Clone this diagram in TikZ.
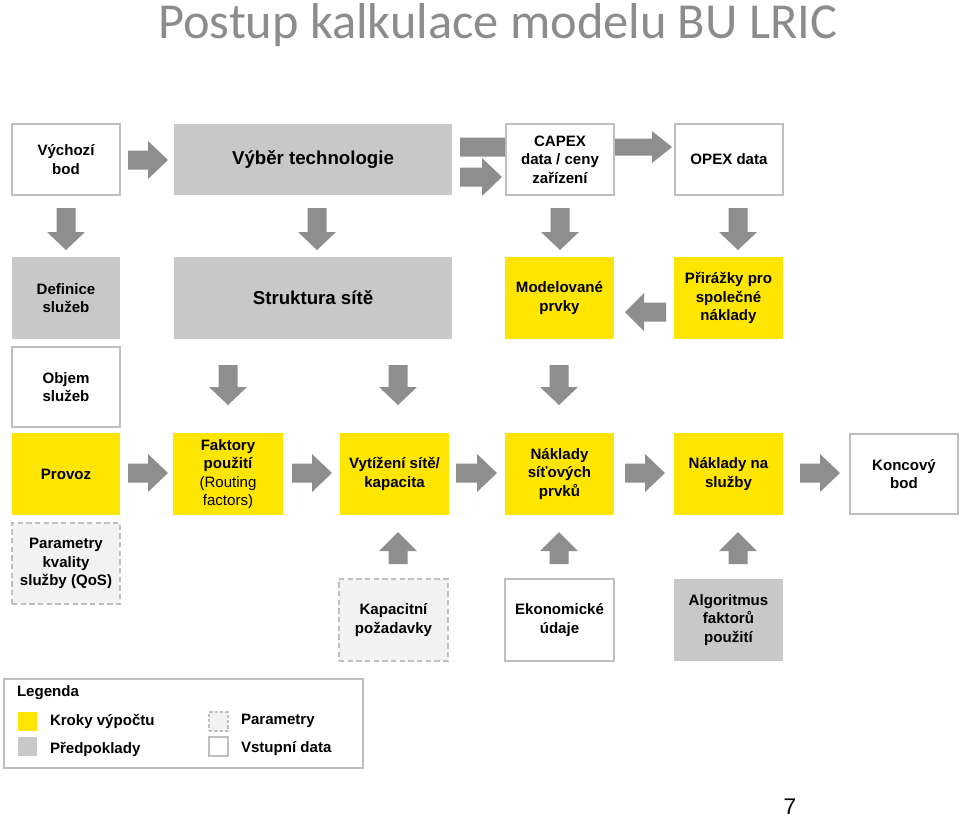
\documentclass[tikz,border=0pt]{standalone}
\usepackage{fontspec}
\setmainfont{Liberation Sans}
\newfontfamily\titlefont{Carlito}
\definecolor{eyy}{HTML}{FFE600}
\definecolor{gfill}{HTML}{C8C8C8}
\definecolor{arr}{HTML}{8E8E8E}
\definecolor{bord}{HTML}{BFBFBF}
\definecolor{pfill}{HTML}{F2F2F2}
\definecolor{ttl}{HTML}{8C8C8C}
\newcommand\bx[7]{\node[#2, minimum width={(#5-#3)*0.75pt}, minimum height={(#6-#4)*0.75pt}] (#1) at ({(#3+#5)/2},{(#4+#6)/2}) {#7};}
% right arrow: x tail, x tip, y centre
\newcommand\RArr[3]{\fill[arr] (#1,#3-9.5) -- (#2-20,#3-9.5) -- (#2-20,#3-19) -- (#2,#3) -- (#2-20,#3+19) -- (#2-20,#3+9.5) -- (#1,#3+9.5) -- cycle;}
% smaller right arrow
\newcommand\RArrS[3]{\fill[arr] (#1,#3-8.5) -- (#2-20,#3-8.5) -- (#2-20,#3-16) -- (#2,#3) -- (#2-20,#3+16) -- (#2-20,#3+8.5) -- (#1,#3+8.5) -- cycle;}
% left arrow: x tip, x tail, y centre
\newcommand\LArr[3]{\fill[arr] (#2,#3-9.5) -- (#1+19,#3-9.5) -- (#1+19,#3-19) -- (#1,#3) -- (#1+19,#3+19) -- (#1+19,#3+9.5) -- (#2,#3+9.5) -- cycle;}
% down arrow: x centre, y tail, y tip
\newcommand\DArr[3]{\fill[arr] (#1-9.5,#2) -- (#1-9.5,#3-18) -- (#1-19,#3-18) -- (#1,#3) -- (#1+19,#3-18) -- (#1+9.5,#3-18) -- (#1+9.5,#2) -- cycle;}
% up arrow: x centre, y tip, y tail
\newcommand\UArr[3]{\fill[arr] (#1-9.5,#3) -- (#1-9.5,#2+19) -- (#1-19,#2+19) -- (#1,#2) -- (#1+19,#2+19) -- (#1+9.5,#2+19) -- (#1+9.5,#3) -- cycle;}
\begin{document}
\begin{tikzpicture}[x=0.75pt,y=-0.75pt,
  base/.style={inner sep=0pt, outer sep=0pt, align=center, text=black,
    font=\bfseries\fontsize{11.3}{13.9}\selectfont},
  inbox/.style={base, draw=bord, line width=1.1pt, fill=white},
  assum/.style={base, fill=gfill},
  calcbox/.style={base, fill=eyy},
  param/.style={base, draw=bord, line width=1.1pt, fill=pfill, dash pattern=on 4pt off 2.5pt},
  big/.style={font=\bfseries\fontsize{14}{17}\selectfont},
  legtext/.style={base, anchor=west}]
\useasboundingbox (0,0) rectangle (960,819);
\fill[white] (0,0) rectangle (960,819);

\node[anchor=base west, inner sep=0pt, text=ttl, font=\titlefont\fontsize{37.8}{40}\selectfont] (title) at (158,38) {Postup kalkulace modelu BU LRIC};

% block arrows
\RArr{128}{168}{160}
\RArr{460}{532}{147}
\RArr{460}{502}{177}
\RArrS{615}{672}{147}
\DArr{66}{208}{250}
\DArr{317}{208}{250}
\DArr{560}{208}{250}
\DArr{738}{208}{250}
\LArr{625}{666}{312}
\DArr{228}{365}{405}
\DArr{398}{365}{405}
\DArr{559}{365}{405}
\RArr{128}{168}{473}
\RArr{292}{332}{473}
\RArr{456}{497}{473}
\RArr{625}{665}{473}
\RArr{800}{840}{473}
\UArr{398}{532}{564}
\UArr{559}{532}{564}
\UArr{738}{532}{564}

% boxes
\bx{vych}{inbox}{12}{124}{120}{195}{Výchozí\\bod}
\bx{vyber}{assum,big}{174}{124}{452}{195}{Výběr technologie}
\bx{capex}{inbox}{506}{124}{614}{195}{CAPEX\\data / ceny\\zařízení}
\bx{opex}{inbox}{675}{124}{783}{195}{OPEX data}
\bx{defin}{assum}{12}{257}{120}{339}{Definice\\služeb}
\bx{strukt}{assum,big}{174}{257}{452}{339}{Struktura sítě}
\bx{model}{calcbox}{505}{257}{614}{339}{Modelované\\prvky}
\bx{priraz}{calcbox}{674}{257}{783}{339}{Přirážky pro\\společné\\náklady}
\bx{objem}{inbox}{12}{347}{120}{427}{Objem\\služeb}
\bx{provoz}{calcbox}{12}{433}{120}{515}{Provoz}
\bx{faktory}{calcbox}{173}{433}{283}{515}{Faktory\\použití\\\mdseries(Routing\\\mdseries factors)}
\bx{vytiz}{calcbox}{340}{433}{449}{515}{Vytížení sítě/\\kapacita}
\bx{nakl}{calcbox}{505}{433}{614}{515}{Náklady\\síťových\\prvků}
\bx{naksl}{calcbox}{674}{433}{783}{515}{Náklady na\\služby}
\bx{konc}{inbox}{850}{434}{958}{514}{Koncový\\bod}
\bx{qos}{param}{12}{523}{120}{604}{Parametry\\kvality\\služby (QoS)}
\bx{kapac}{param}{339}{579}{448}{661}{Kapacitní\\požadavky}
\bx{ekon}{inbox}{505}{579}{614}{661}{Ekonomické\\údaje}
\bx{algo}{assum}{674}{579}{783}{661}{Algoritmus\\faktorů\\použití}

% legend
\bx{leg}{base, draw=bord, line width=0.9pt}{4}{679}{363}{768}{}
\node[legtext] (legt) at (17,693) {Legenda};
\bx{lk}{calcbox}{18}{712}{37}{731}{}
\bx{lp}{assum}{18}{737}{37}{756}{}
\bx{lpar}{param, line width=0.8pt, dash pattern=on 2.5pt off 1.5pt}{209}{712}{228}{731}{}
\bx{lin}{inbox, line width=0.8pt}{209}{737}{228}{756}{}
\node[legtext] (lkt) at (50,721) {Kroky výpočtu};
\node[legtext] (lpt) at (50,749) {Předpoklady};
\node[legtext] (lpart) at (241,721) {Parametry};
\node[legtext] (lint) at (241,749) {Vstupní data};

\node[inner sep=0pt, font=\fontsize{17}{19}\selectfont] (pg) at (790,807) {7};
\end{tikzpicture}
\end{document}
